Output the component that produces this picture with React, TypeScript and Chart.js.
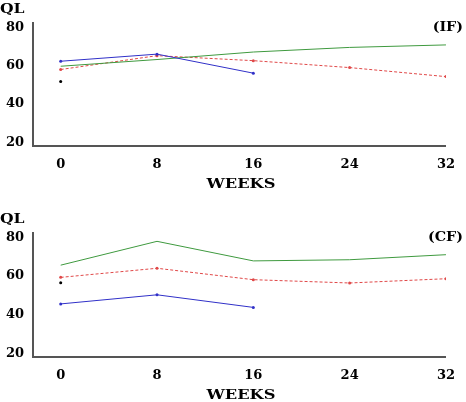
import React, { useEffect, useRef } from "react";
import { Chart, registerables } from "chart.js";

Chart.register(...registerables);

const weeks = [0, 8, 16, 24, 32];
const blueWeeks = [0, 8, 16];
const xTicks = [0, 8, 16, 24, 32];
const yTicks = [20, 40, 60, 80];

// IF panel
const ifBlue = [62.3, 66.0, 56.1];
const ifGreen = [59.7, 63.2, 67.1, 69.5, 70.8];
const ifRed = [58.0, 65.2, 62.6, 59.0, 54.3];
const ifDot = [51.7];

// CF panel
const cfBlue = [45.6, 50.3, 43.8];
const cfGreen = [65.6, 77.9, 67.8, 68.4, 71.0];
const cfRed = [59.3, 64.0, 58.1, 56.4, 58.6];
const cfDot = [56.5];

const FONT = "DejaVu Serif";

function pts(xs: number[], ys: number[]) {
  return ys.map((y, i) => ({ x: xs[i], y }));
}

type PanelProps = {
  label: string;
  blue: number[];
  green: number[];
  red: number[];
  dot: number[];
  top: number;
  bottomH: number;
  labelDy: number;
};

function Panel({ label, blue, green, red, dot, top, bottomH, labelDy }: PanelProps) {
  const ref = useRef<HTMLCanvasElement>(null);
  useEffect(() => {
    if (!ref.current) return;
    const textPlugin = {
      id: "texts",
      afterDraw(chart: any) {
        const ctx = chart.ctx;
        const area = chart.chartArea;
        ctx.save();
        ctx.fillStyle = "#000";
        ctx.font = `bold 13px "${FONT}"`;
        ctx.textBaseline = "middle";
        const drawStretched = (t: string, x: number, y: number, sx: number, align: string) => {
          ctx.save();
          ctx.translate(x, y);
          ctx.scale(sx, 1);
          ctx.textAlign = align;
          ctx.fillText(t, 0, 0);
          ctx.restore();
        };
        drawStretched("QL", 0, area.top - 13, 1.2, "left");
        drawStretched("WEEKS", 241, area.bottom + 39, 1.25, "center");
        drawStretched(label, 463, area.top + labelDy, 1.1, "right");
        ctx.restore();
      },
    };
    const chart = new Chart(ref.current, {
      type: "line",
      data: {
        datasets: [
          {
            data: pts(blueWeeks, blue),
            borderColor: "#3030c8",
            backgroundColor: "#3030c8",
            borderWidth: 1,
            pointRadius: 1.5,
            pointBorderWidth: 0,
          },
          {
            data: pts(weeks, green),
            borderColor: "#3f9a3f",
            borderWidth: 1,
            pointRadius: 0,
          },
          {
            data: pts(weeks, red),
            borderColor: "#e04848",
            backgroundColor: "#e04848",
            borderWidth: 1,
            borderDash: [3, 2],
            pointRadius: 1.5,
            pointBorderWidth: 0,
          },
          {
            data: pts([0], dot),
            showLine: false,
            borderColor: "#000",
            backgroundColor: "#000",
            pointRadius: 1.5,
            pointBorderWidth: 0,
          },
        ],
      },
      options: {
        animation: false,
        responsive: false,
        maintainAspectRatio: false,
        layout: { padding: { top, right: 17, left: 0, bottom: 0 } },
        plugins: { legend: { display: false }, tooltip: { enabled: false } },
        scales: {
          x: {
            type: "linear",
            min: -2.3,
            max: 32,
            afterBuildTicks: (s: any) => {
              s.ticks = xTicks.map((v) => ({ value: v }));
            },
            afterFit: (s: any) => {
              s.height = bottomH;
            },
            grid: { display: false, drawTicks: false },
            border: { display: true, color: "#555", width: 2 },
            ticks: {
              color: "#000",
              font: { family: FONT, size: 13, weight: "bold" },
              padding: 11,
              maxRotation: 0,
            },
          },
          y: {
            min: 18.2,
            max: 82.2,
            afterBuildTicks: (s: any) => {
              s.ticks = yTicks.map((v) => ({ value: v }));
            },
            afterFit: (s: any) => {
              s.width = 33;
            },
            grid: { display: false, drawTicks: false },
            border: { display: true, color: "#555", width: 2 },
            ticks: {
              color: "#000",
              font: { family: FONT, size: 13, weight: "bold" },
              padding: 9,
            },
          },
        },
      },
      plugins: [textPlugin],
    } as any);
    return () => chart.destroy();
  }, []);
  return <canvas ref={ref} width={466} height={201} style={{ display: "block", width: 466, height: 201 }} />;
}

export default function App() {
  return (
    <div style={{ position: "fixed", left: 0, top: 0, width: 466, height: 402, background: "#fff" }}>
      <Panel label="(IF)" blue={ifBlue} green={ifGreen} red={ifRed} dot={ifDot} top={23} bottomH={55} labelDy={5} />
      <Panel label="(CF)" blue={cfBlue} green={cfGreen} red={cfRed} dot={cfDot} top={32} bottomH={45} labelDy={5} />
    </div>
  );
}
